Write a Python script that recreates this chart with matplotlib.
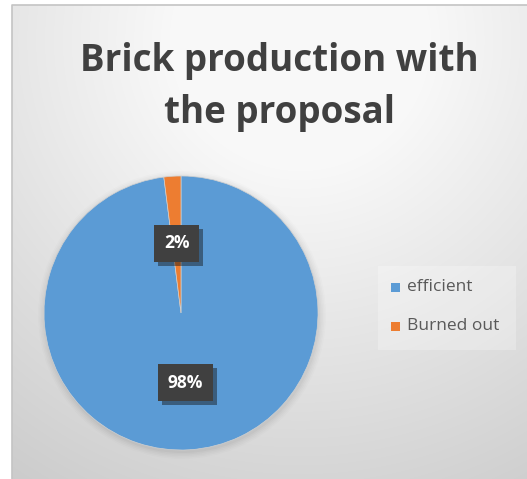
import numpy as np
import matplotlib
matplotlib.use("Agg")
import matplotlib.pyplot as plt
from matplotlib.patches import Rectangle, Circle
import matplotlib.patheffects as pe

title = "Brick production with\nthe proposal"
categories = ["efficient", "Burned out"]
values = [98, 2]
colors = ["#5B9BD5", "#ED7D31"]

W, H = 527, 479
fig = plt.figure(figsize=(W / 100, H / 100), dpi=100, facecolor="white")

# background gradient axes
bg = fig.add_axes([0, 0, 1, 1])
bg.set_xlim(0, W)
bg.set_ylim(H, 0)
bg.axis("off")
yy, xx = np.mgrid[0:H, 0:W]
d = np.sqrt((xx - 300) ** 2 + (yy - 40) ** 2)
v = np.clip(1.03 - 0.00044 * d, 0.78, 0.975)
img = np.dstack([v, v, v])
x0, y0 = 12, 5
bg.imshow(img[y0:, x0:], extent=(x0, W, H, y0), aspect="auto", zorder=0)
bg.plot([x0, x0, W], [H, y0, y0], color="#c4c4c4", lw=1.2, zorder=1)

# pie shadow halo
cx, cy, R = 181, 313, 137
for i, a in enumerate(np.linspace(0.025, 0.01, 5)):
    bg.add_patch(Circle((cx + 1, cy + 2), R + 1 + i * 1.5, color="black", alpha=a, lw=0, zorder=2))

# legend background
bg.add_patch(Rectangle((378, 266), 138, 84, facecolor="white", alpha=0.25, lw=0, zorder=2))

# title
fig.text(279 / W, 1 - 87 / H, title, ha="center", va="center", fontsize=26.5,
         fontweight="bold", color="#404040", family="Open Sans", linespacing=1.45)

# pie
ax = fig.add_axes([(cx - R) / W, (H - cy - R) / H, 2 * R / W, 2 * R / H])
wedges, texts, autotexts = ax.pie(values, colors=colors, startangle=90, counterclock=False,
                                  autopct="%1.0f%%", pctdistance=0.51, radius=1,
                                  wedgeprops=dict(linewidth=0.5, edgecolor="#d0d0d0"),
                                  textprops=dict(color="white", fontsize=12.5, fontweight="bold",
                                                 family="Open Sans"))
ax.set_xlim(-1, 1)
ax.set_ylim(-1, 1)
ax.set_aspect("equal")
ax.axis("off")
for t in autotexts:
    t.set_bbox(dict(boxstyle="square,pad=0.55", facecolor="#404040", edgecolor="none"))
    t.get_bbox_patch().set_path_effects([pe.SimplePatchShadow(offset=(3, -3), alpha=0.45),
                                         pe.Normal()])

# legend
ypos = [287, 326]
for cat, col, yp in zip(categories, colors, ypos):
    bg.add_patch(Rectangle((391, yp - 4), 9, 9, facecolor=col, edgecolor="none", zorder=3))
    bg.text(407, yp, cat, ha="left", va="center", fontsize=12.5, color="#595959",
            family="Open Sans", zorder=3)

fig.savefig("out.png", dpi=100, facecolor="white")
